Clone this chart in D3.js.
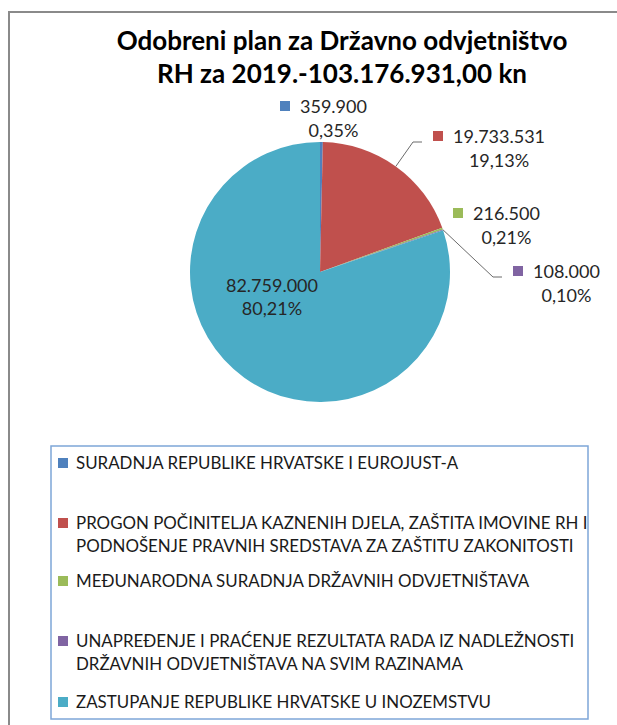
<!DOCTYPE html>
<html>
<head>
<meta charset="utf-8">
<script src="https://cdn.jsdelivr.net/npm/d3@7"></script>
<style>
  html, body { margin: 0; padding: 0; background: #fff; }
  svg { display: block; font-family: Lato, "Open Sans", sans-serif; }
</style>
</head>
<body>
<div id="chart"></div>
<script>
// Pie — approved budget split, with outside value labels and a boxed legend

const titleLines = ['Odobreni plan za Državno odvjetništvo', 'RH za 2019.-103.176.931,00 kn'];

const categories = [
  'SURADNJA REPUBLIKE HRVATSKE I EUROJUST-A',
  'PROGON POČINITELJA KAZNENIH DJELA, ZAŠTITA IMOVINE RH I\nPODNOŠENJE PRAVNIH SREDSTAVA ZA ZAŠTITU ZAKONITOSTI',
  'MEĐUNARODNA SURADNJA DRŽAVNIH ODVJETNIŠTAVA',
  'UNAPREĐENJE I PRAĆENJE REZULTATA RADA IZ NADLEŽNOSTI\nDRŽAVNIH ODVJETNIŠTAVA NA SVIM RAZINAMA',
  'ZASTUPANJE REPUBLIKE HRVATSKE U INOZEMSTVU'
];
const values = [359900, 19733531, 216500, 108000, 82759000];
const colors = ['#4F81BD', '#C0504D', '#9BBB59', '#8064A2', '#4BACC6'];

// label layout (px from pie centre): left edge + baseline of the value line
const labelPos = [
  { x: -20, y: -159, key: true,  leader: false },
  { x: 133, y: -129, key: true,  leader: true },
  { x: 153, y: -52,  key: true,  leader: false },
  { x: 213, y: 6,    key: true,  leader: true },
  { x: -48, y: 20,   key: false, leader: false, inside: true }
];

const W = 617, H = 725;
const cx = 320, cy = 272, R = 130;

const hr = d3.formatLocale({ decimal: ',', thousands: '.', grouping: [3], currency: ['', ''] });
const fmtVal = hr.format(',.0f');
const fmtPct = hr.format('.2%');
const total = d3.sum(values);

const svg = d3.select('#chart').append('svg')
  .attr('width', W).attr('height', H);

// outer frame (only top + left edges are visible in the crop)
svg.append('path')
  .attr('d', d3.line()([[9, H], [9, 12], [W, 12]]))
  .attr('fill', 'none')
  .attr('stroke', '#8a8a8a')
  .attr('stroke-width', 2);

// title
svg.append('text')
  .attr('x', 342).attr('y', 50)
  .attr('text-anchor', 'middle')
  .attr('font-size', 26).attr('font-weight', 'bold')
  .attr('fill', '#000')
  .selectAll('tspan').data(titleLines).join('tspan')
  .attr('x', 342)
  .attr('dy', (d, i) => i ? 33 : 0)
  .text(d => d);

// pie
const pie = d3.pie().sort(null).value(d => d)(values);
const arc = d3.arc().innerRadius(0).outerRadius(R);

const gPie = svg.append('g').attr('transform', `translate(${cx},${cy})`);
gPie.selectAll('path.slice').data(pie).join('path')
  .attr('class', 'slice')
  .attr('d', arc)
  .attr('fill', (d, i) => colors[i]);

// data labels
const gLab = svg.append('g').attr('transform', `translate(${cx},${cy})`)
  .attr('font-size', 18).attr('fill', '#262626');

pie.forEach((d, i) => {
  const p = labelPos[i];
  const vTxt = fmtVal(values[i]);
  const pTxt = fmtPct(values[i] / total);

  if (p.leader) {
    const mid = (d.startAngle + d.endAngle) / 2;
    const sx = Math.sin(mid) * R, sy = -Math.cos(mid) * R;
    gLab.append('path')
      .attr('d', d3.line()([[sx, sy], [p.x - 40, p.y - 1], [p.x - 31, p.y - 1]]))
      .attr('fill', 'none')
      .attr('stroke', '#6b6b6b')
      .attr('stroke-width', 1);
  }

  if (p.inside) {
    gLab.append('text').attr('x', p.x).attr('y', p.y)
      .attr('text-anchor', 'middle').text(vTxt);
    gLab.append('text').attr('x', p.x).attr('y', p.y + 23)
      .attr('text-anchor', 'middle').text(pTxt);
    return;
  }

  const t = gLab.append('text').attr('x', p.x).attr('y', p.y).text(vTxt);
  const tw = t.node().getComputedTextLength();
  if (p.key) {
    gLab.append('rect')
      .attr('x', p.x - 20).attr('y', p.y - 12)
      .attr('width', 10).attr('height', 10)
      .attr('fill', colors[i]);
  }
  gLab.append('text')
    .attr('x', p.x + tw / 2).attr('y', p.y + 24)
    .attr('text-anchor', 'middle')
    .text(pTxt);
});

// legend
const lgX = 51, lgY = 446, lgW = 537, lgH = 273;
const rowBase = [469, 529, 587, 647, 708];
const lineGap = 23;

const gLeg = svg.append('g');
gLeg.append('rect')
  .attr('x', lgX).attr('y', lgY)
  .attr('width', lgW).attr('height', lgH)
  .attr('fill', '#fff')
  .attr('stroke', '#7ea6d8')
  .attr('stroke-width', 1.5);

categories.forEach((name, i) => {
  const y = rowBase[i];
  gLeg.append('rect')
    .attr('x', lgX + 7).attr('y', y - 11)
    .attr('width', 10).attr('height', 10)
    .attr('fill', colors[i]);
  gLeg.append('text')
    .attr('x', lgX + 25).attr('y', y)
    .attr('font-size', 16.9)
    .attr('fill', '#1a1a1a')
    .selectAll('tspan').data(name.split('\n')).join('tspan')
    .attr('x', lgX + 25)
    .attr('dy', (d, j) => j ? lineGap : 0)
    .text(d => d);
});
</script>
</body>
</html>
